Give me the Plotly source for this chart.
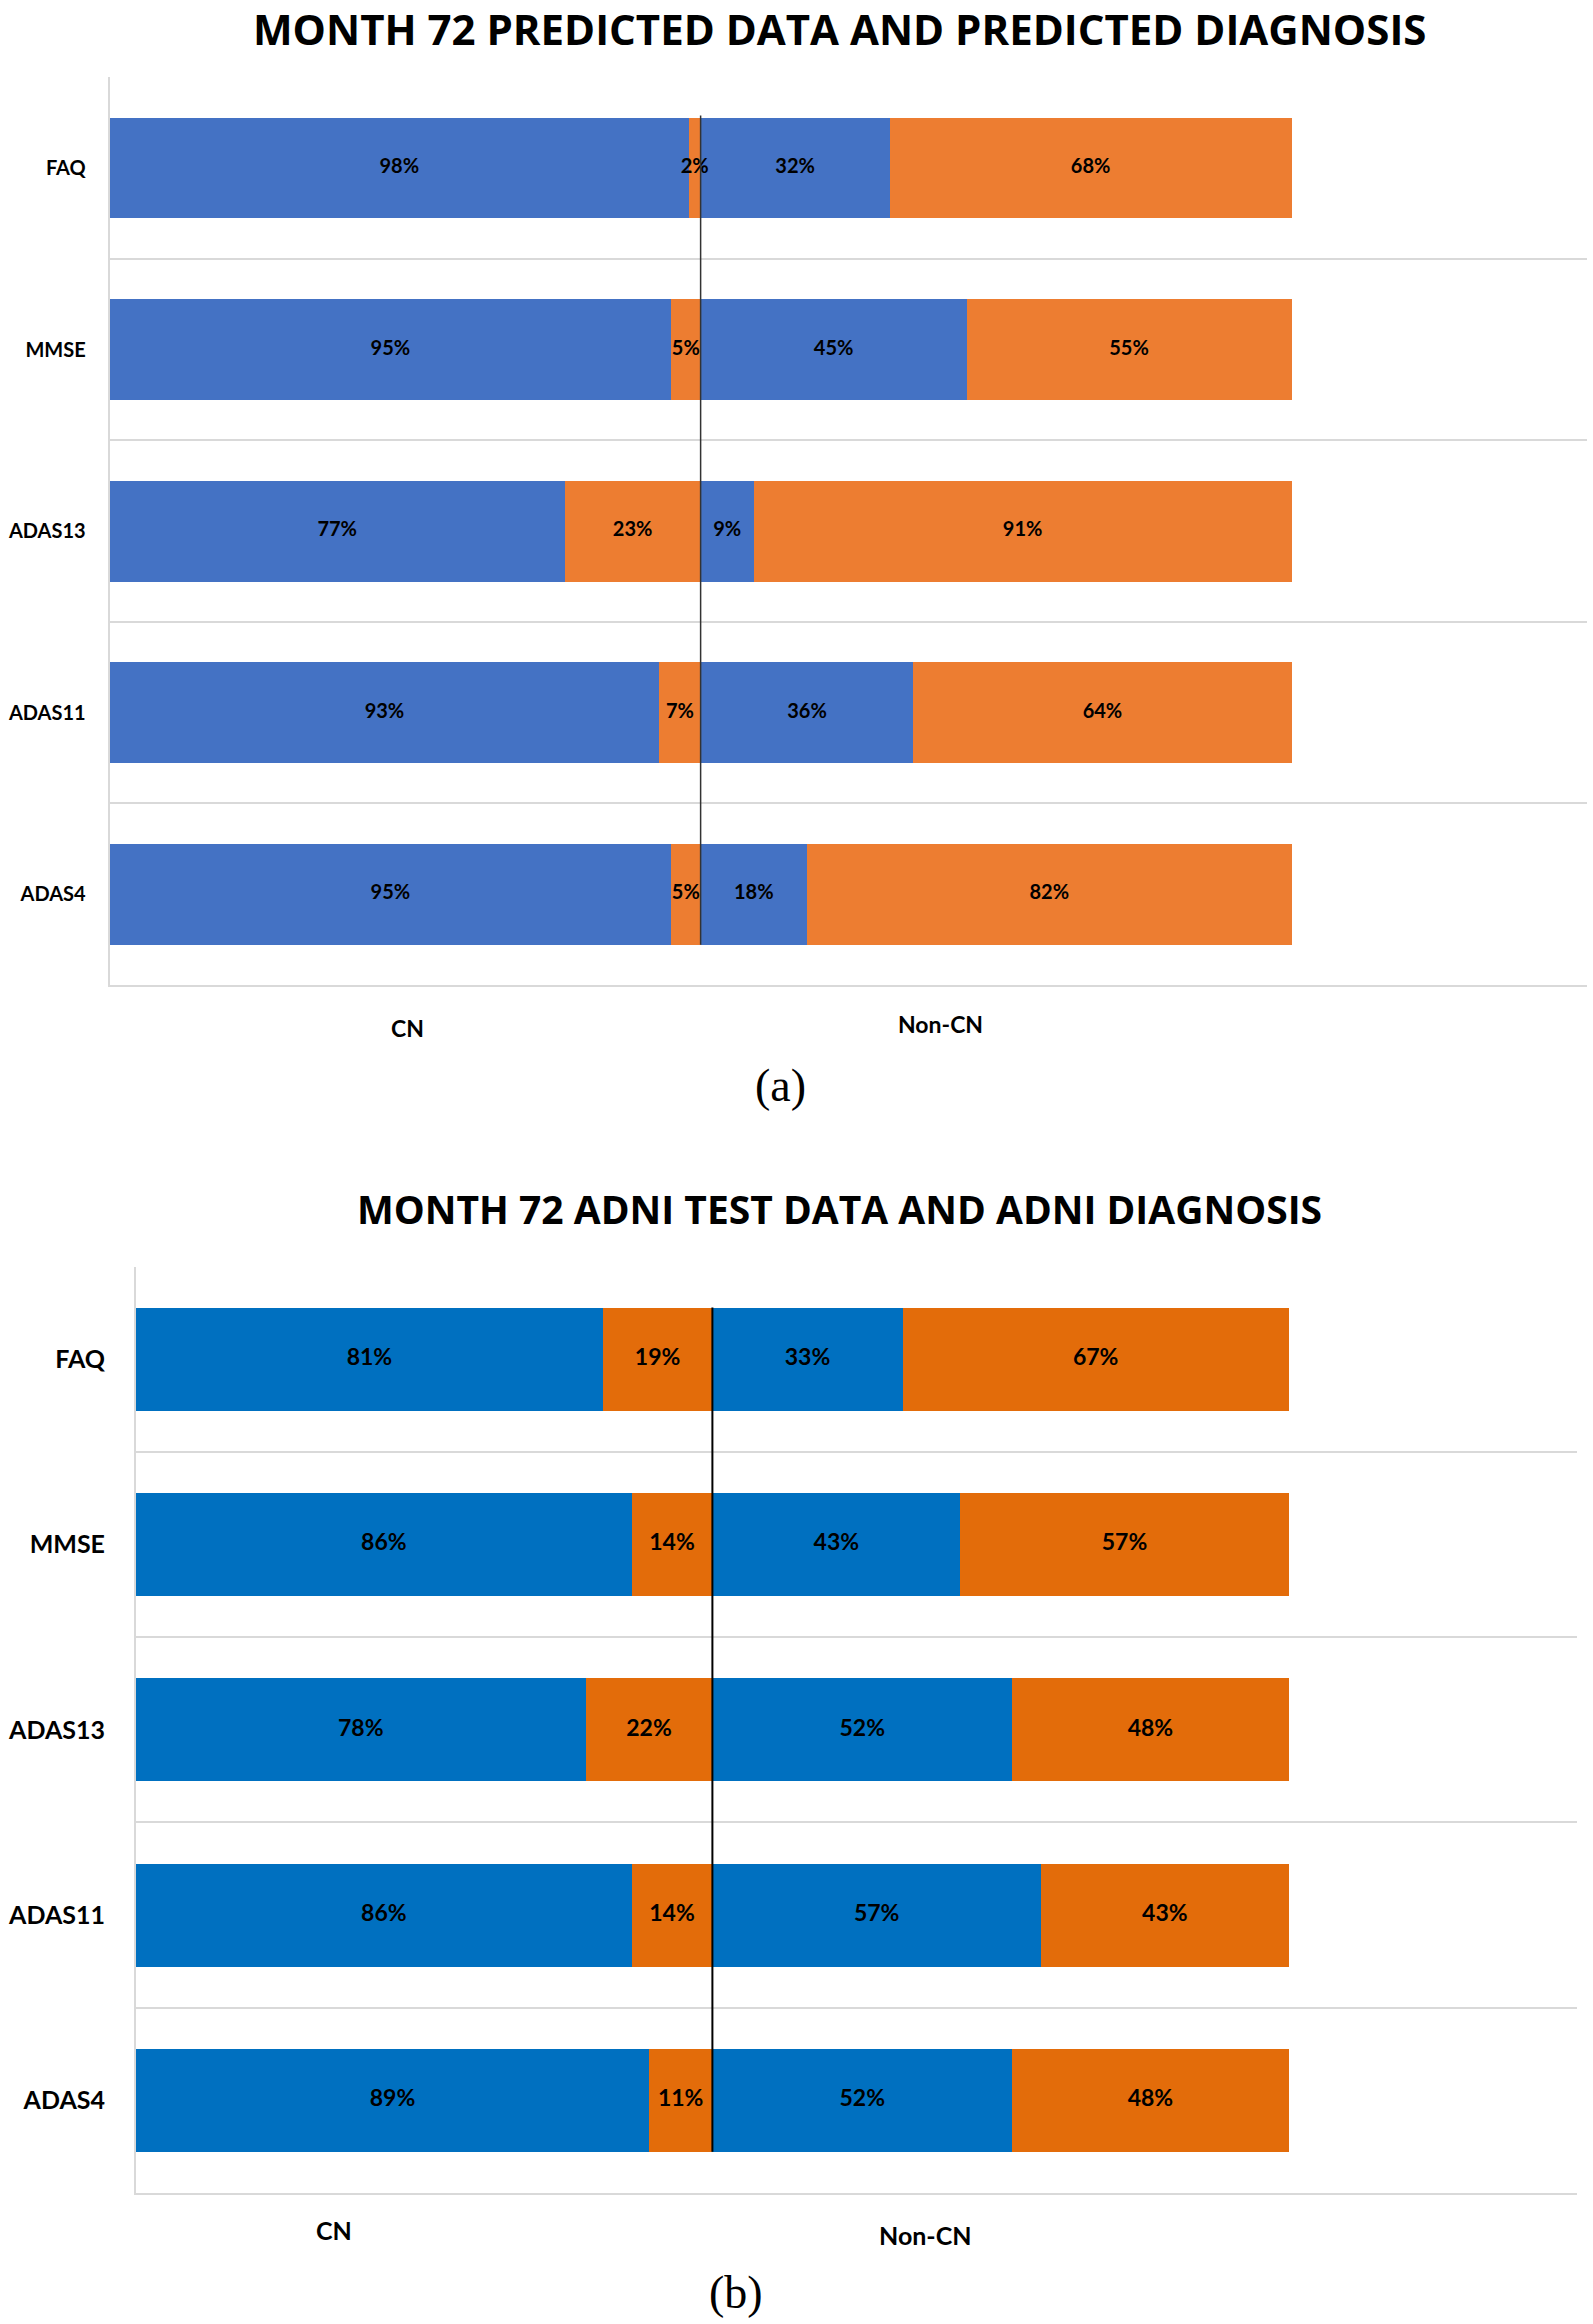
import plotly.graph_objects as go

# ---------------- data ----------------
categories = ["FAQ", "MMSE", "ADAS13", "ADAS11", "ADAS4"]

# Panel (a): Month 72 predicted data and predicted diagnosis
a_cn_blue = [98, 95, 77, 93, 95]
a_cn_orange = [2, 5, 23, 7, 5]
a_non_blue = [32, 45, 9, 36, 18]
a_non_orange = [68, 55, 91, 64, 82]

# Panel (b): Month 72 ADNI test data and ADNI diagnosis
b_cn_blue = [81, 86, 78, 86, 89]
b_cn_orange = [19, 14, 22, 14, 11]
b_non_blue = [33, 43, 52, 57, 52]
b_non_orange = [67, 57, 48, 43, 48]

group_labels = ["CN", "Non-CN"]
title_a = "MONTH 72 PREDICTED DATA AND PREDICTED DIAGNOSIS"
title_b = "MONTH 72 ADNI TEST DATA AND ADNI DIAGNOSIS"
captions = ["(a)", "(b)"]

# ---------------- layout helpers ----------------
W, H = 1593, 2324
def px(x):
    return x / W
def py(y):
    return 1 - y / H

LABEL_FONT = "Lato"
TITLE_FONT = "Open Sans"

fig = go.Figure()

def add_panel(xa, ya, blue, orange, c_blue, c_orange, n_blue, n_orange, tsize):
    series = [(c_blue, blue), (c_orange, orange), (n_blue, blue), (n_orange, orange)]
    base = [0] * len(categories)
    tx, ty, tt = [], [], []
    for vals, col in series:
        fig.add_trace(go.Bar(
            y=categories, x=vals, orientation="h",
            xaxis=xa, yaxis=ya,
            marker=dict(color=col, line=dict(width=0)),
            showlegend=False, hoverinfo="skip",
        ))
        for i, v in enumerate(vals):
            tx.append(base[i] + v / 2)
            ty.append(categories[i])
            tt.append(f"{v}%")
            base[i] += v
    # value labels drawn on top of all bars (so small segments' labels are not hidden)
    fig.add_trace(go.Scatter(
        x=tx, y=ty, mode="text", text=tt, textposition="middle center",
        xaxis=xa, yaxis=ya, cliponaxis=False,
        textfont=dict(family=LABEL_FONT, size=tsize, color="black", weight="bold"),
        showlegend=False, hoverinfo="skip",
    ))

add_panel("x", "y", "#4472C4", "#ED7D31",
          a_cn_blue, a_cn_orange, a_non_blue, a_non_orange, 20)
add_panel("x2", "y2", "#0070C0", "#E36C0A",
          b_cn_blue, b_cn_orange, b_non_blue, b_non_orange, 23)

grid = "#D9D9D9"

def yaxis_cfg(top, bottom, size, standoff, anchor):
    return dict(
        domain=[py(bottom), py(top)], anchor=anchor,
        type="category", categoryarray=categories,
        range=[len(categories) - 0.5, -0.5],
        tickson="boundaries", ticks="",
        showgrid=True, gridcolor=grid, gridwidth=2,
        showline=True, linecolor=grid, linewidth=2,
        ticklabelstandoff=standoff, automargin=False,
        tickfont=dict(family=LABEL_FONT, size=size, color="black", weight="bold"),
        zeroline=False, fixedrange=True,
    )

def xaxis_cfg(left, right, anchor):
    return dict(
        domain=[px(left), px(right)], range=[0, 250], anchor=anchor,
        showticklabels=False, showgrid=False, zeroline=False,
        showline=True, linecolor=grid, linewidth=2, ticks="",
        automargin=False, fixedrange=True,
    )

fig.update_layout(
    width=W, height=H,
    margin=dict(l=0, r=0, t=0, b=0, autoexpand=False),
    paper_bgcolor="white", plot_bgcolor="white",
    barmode="stack", bargap=0.445,
    xaxis=xaxis_cfg(109.7, 1587, "y"),
    yaxis=yaxis_cfg(77.3, 985, 20, 18, "x"),
    xaxis2=xaxis_cfg(136, 1577, "y2"),
    yaxis2=yaxis_cfg(1266.7, 2193, 25, 24, "x2"),
)

# divider line between CN and Non-CN groups (at the CN total)
cn_total_a = a_cn_blue[0] + a_cn_orange[0]
cn_total_b = b_cn_blue[0] + b_cn_orange[0]
fig.add_shape(type="line", xref="x", yref="y", x0=cn_total_a, x1=cn_total_a,
              y0=-0.29, y1=len(categories) - 1 + 0.278,
              line=dict(color="#333333", width=1.5))
fig.add_shape(type="line", xref="x2", yref="y2", x0=cn_total_b, x1=cn_total_b,
              y0=-0.28, y1=len(categories) - 1 + 0.278,
              line=dict(color="black", width=2))

ann = []
# titles
ann.append(dict(text=f"<b>{title_a}</b>", x=px(840), y=py(29), xref="paper", yref="paper",
                showarrow=False, xanchor="center", yanchor="middle",
                font=dict(family=TITLE_FONT, size=42, color="black")))
ann.append(dict(text=f"<b>{title_b}</b>", x=px(840), y=py(1208), xref="paper", yref="paper",
                showarrow=False, xanchor="center", yanchor="middle",
                font=dict(family=TITLE_FONT, size=39, color="black")))
# group labels
for (lab, x, y, s) in [(group_labels[0], 407, 1028, 23), (group_labels[1], 940, 1024, 23),
                       (group_labels[0], 334, 2230, 25), (group_labels[1], 925, 2235, 25)]:
    ann.append(dict(text=f"<b>{lab}</b>", x=px(x), y=py(y), xref="paper", yref="paper",
                    showarrow=False, xanchor="center", yanchor="middle",
                    font=dict(family=LABEL_FONT, size=s, color="black")))
# captions
for (lab, x, y) in [(captions[0], 780, 1085), (captions[1], 736, 2292)]:
    ann.append(dict(text=lab, x=px(x), y=py(y), xref="paper", yref="paper",
                    showarrow=False, xanchor="center", yanchor="middle",
                    font=dict(family="Liberation Serif", size=46, color="black")))
fig.update_layout(annotations=ann)

fig.write_html("out.html", config={"displayModeBar": False},
               post_script="document.body.style.margin='0';document.body.style.overflow='hidden';")
